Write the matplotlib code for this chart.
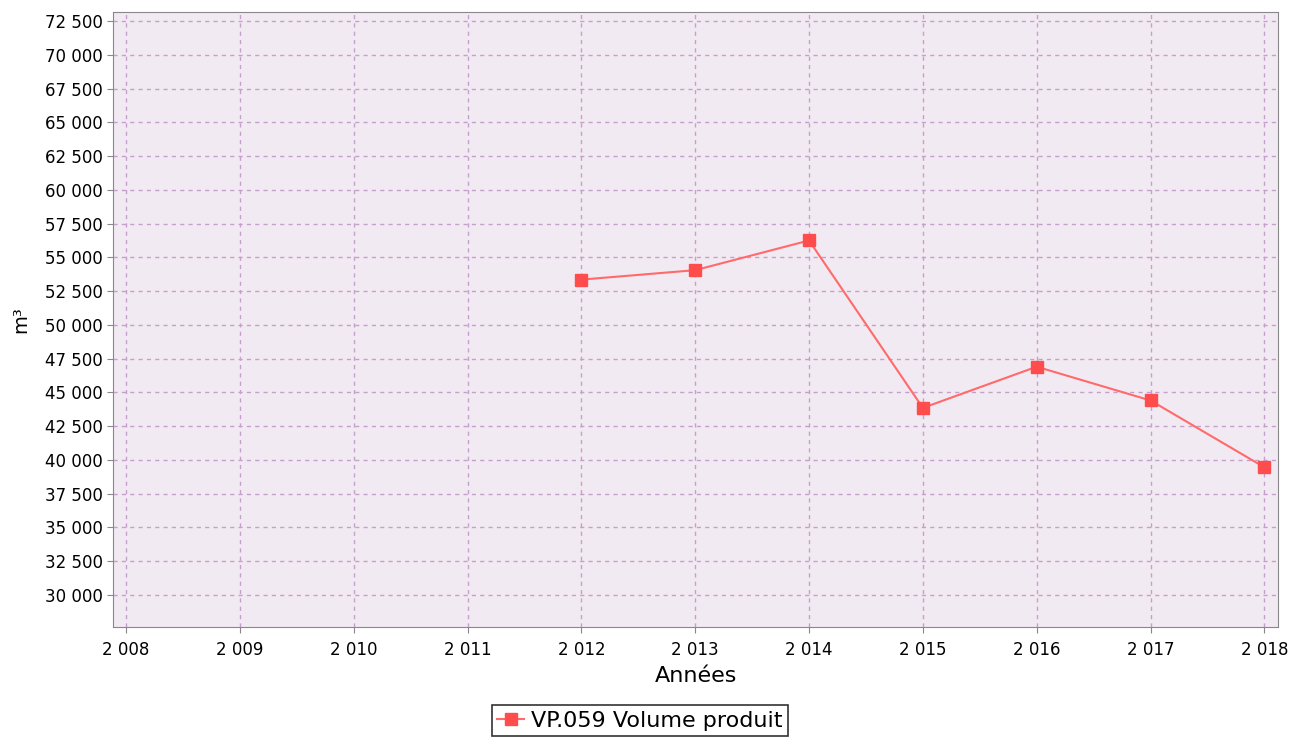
import matplotlib.pyplot as plt
from matplotlib.ticker import FuncFormatter, MultipleLocator

# data
years = [2012, 2013, 2014, 2015, 2016, 2017, 2018]
volume = [53350, 54050, 56250, 43850, 46900, 44400, 39450]
series_label = 'VP.059 Volume produit'

fig = plt.figure(figsize=(12.95, 7.41), dpi=100)
ax = fig.add_axes([0.0873, 0.1538, 0.8996, 0.830])
ax.set_facecolor('#f2eaf2')

ax.plot(years, volume, color='#ff6a6a', linewidth=1.5, marker='s', markersize=8,
        markerfacecolor='#ff4d4d', markeredgecolor='#ff4d4d', label=series_label)

ax.set_xlim(2007.886, 2018.12)
ax.set_ylim(27620, 73170)
ax.xaxis.set_major_locator(MultipleLocator(1))
ax.yaxis.set_major_locator(MultipleLocator(2500))


def fmt(v, pos):
    return '{:,.0f}'.format(v).replace(',', ' ')


ax.xaxis.set_major_formatter(FuncFormatter(fmt))
ax.yaxis.set_major_formatter(FuncFormatter(lambda v, p: fmt(v, p) if v >= 30000 else ''))

ax.grid(True, color='#c6a0cc', linestyle=(0, (3, 3)), linewidth=1)
for s in ax.spines.values():
    s.set_color('#888888')
ax.tick_params(colors='#888888', labelcolor='black', labelsize=12, length=4)
ax.tick_params(axis='x', pad=6)

ax.set_xlabel('Années', fontsize=16)
ax.set_ylabel('m³', fontsize=14)
ax.xaxis.set_label_coords(0.5, -0.064)
ax.yaxis.set_label_coords(-0.071, 0.5)

leg = fig.legend(loc='upper center', bbox_to_anchor=(0.494, 0.0486), fontsize=16,
                 frameon=True, fancybox=False, edgecolor='black', handlelength=1.2,
                 borderpad=0.25, handletextpad=0.3, borderaxespad=0)
leg.get_frame().set_linewidth(1.2)

plt.savefig('out.png', dpi=100)
